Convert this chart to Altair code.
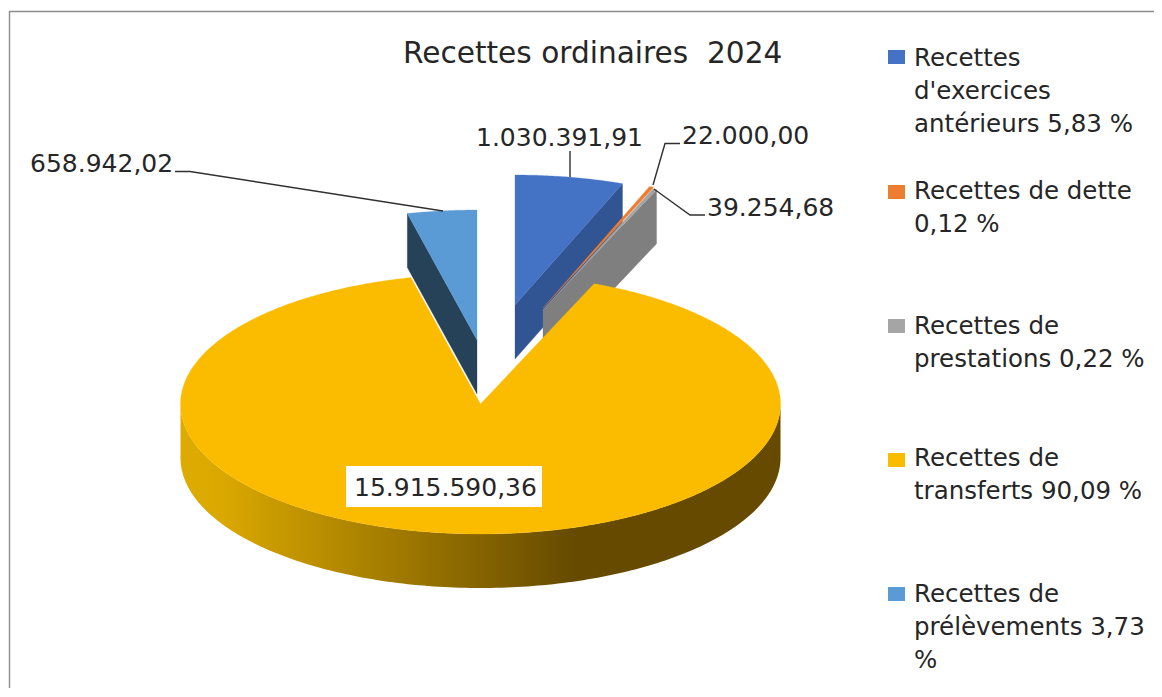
import math
import altair as alt
import pandas as pd

# ---- data
categories = ["Recettes d'exercices antérieurs", "Recettes de dette", "Recettes de prestations",
              "Recettes de transferts", "Recettes de prélèvements"]
values = [1030391.91, 22000.00, 39254.68, 15915590.36, 658942.02]
value_labels = ["1.030.391,91", "22.000,00", "39.254,68", "15.915.590,36", "658.942,02"]
top_colors = ["#4472C4", "#ED7D31", "#A5A5A5", "#FBBC00", "#5B9BD5"]
side_colors = ["#315492", "#B85F20", "#7F7F7F", "#654A00", "#264259"]
legend_lines = [["Recettes", "d'exercices", "antérieurs 5,83 %"],
                ["Recettes de dette", "0,12 %"],
                ["Recettes de", "prestations 0,22 %"],
                ["Recettes de", "transferts 90,09 %"],
                ["Recettes de", "prélèvements 3,73", "%"]]
title = "Recettes ordinaires \u00a02024"

# ---- layout of the 3D projection (page pixels)
RX, RY, DEPTH = 300, 130, 54
apex = [(515, 305), (543, 308), (543, 310), (480.5, 404), (477, 340)]
legend_first_y = [59, 192, 327, 459, 595]
legend_box_y = [57, 192, 326, 460, 594]
LINE_H = 33
FONT = "DejaVu Sans"
TXT = "#262626"

X = alt.X("x:Q", scale=alt.Scale(domain=[8, 1154], nice=False, zero=False), axis=None)
Y = alt.Y("y:Q", scale=alt.Scale(domain=[688, 8], nice=False, zero=False), axis=None)
X2 = alt.X2("x2:Q")
Y2 = alt.Y2("y2:Q")

total = sum(values)
spans, start = [], 0.0
for v in values:
    end = start + v / total * 360
    spans.append((start, end))
    start = end


def rim(i, t):
    a = math.radians(t)
    return apex[i][0] + RX * math.sin(a), apex[i][1] - RY * math.cos(a)


def polygon(points, fill):
    df = pd.DataFrame([{"x": p[0], "y": p[1], "k": n} for n, p in enumerate(points)])
    return alt.Chart(df).mark_line(interpolate="linear-closed", fill=fill, stroke=fill,
                                   strokeWidth=0.3).encode(
        x=X, y=Y, order=alt.Order("k:Q"))


def wedge(i):
    t0, t1 = spans[i]
    n = max(2, int((t1 - t0) * 2))
    pts = [apex[i]] + [rim(i, t0 + (t1 - t0) * k / n) for k in range(n + 1)]
    return polygon(pts, top_colors[i])


layers = []

# frame
frame = pd.DataFrame({"x": [9.5, 9.5, 1154], "y": [688, 11.5, 11.5], "k": [0, 1, 2]})
layers.append(alt.Chart(frame).mark_line(color="#8C8C8C", strokeWidth=1.4).encode(
    x=X, y=Y, order=alt.Order("k:Q")))


def side_face(i, t):
    ax, ay = apex[i]
    ox, oy = rim(i, t)
    return polygon([(ax, ay), (ox, oy), (ox, oy + DEPTH), (ax, ay + DEPTH)], side_colors[i])


# exploded slices: radial walls then top faces
layers.append(side_face(4, spans[4][0]))
layers.append(side_face(0, spans[0][1]))
layers.append(side_face(2, spans[2][1]))
layers.append(wedge(4))
layers.append(wedge(0))
layers.append(wedge(2))
layers.append(polygon([apex[1], rim(1, spans[1][0] - 0.2), rim(1, spans[1][1] + 0.2)], top_colors[1]))

# main slice: outer wall with a horizontal gradient, then the top face
wall_rows = []
for k in range(181):
    t = 90 + k
    x, y = rim(3, t)
    wall_rows.append({"x": x, "y": y, "y2": y + DEPTH})
wall = pd.DataFrame(wall_rows)
grad = alt.LinearGradient(gradient="linear", x1=0, x2=1, y1=0, y2=0,
                          stops=[alt.GradientStop(color="#DDAB00", offset=0),
                                 alt.GradientStop(color="#DAA800", offset=0.07),
                                 alt.GradientStop(color="#654A00", offset=0.66),
                                 alt.GradientStop(color="#654A00", offset=1)])
layers.append(alt.Chart(wall).mark_area(color=grad).encode(x=X, y=Y, y2=Y2))
layers.append(wedge(3))

# leader lines
leaders = [
    [(175, 171.5), (190, 171.5), (443, 211)],
    [(570, 151), (570, 177)],
    [(680, 143.5), (665, 143.5), (653, 185)],
    [(705, 215), (690, 215), (654, 189)],
]
for pts in leaders:
    d = pd.DataFrame([{"x": p[0], "y": p[1], "k": n} for n, p in enumerate(pts)])
    layers.append(alt.Chart(d).mark_line(color="#303030", strokeWidth=1.4).encode(
        x=X, y=Y, order=alt.Order("k:Q")))

# white box under the main label
box = pd.DataFrame({"x": [346], "x2": [542], "y": [466], "y2": [507]})
layers.append(alt.Chart(box).mark_rect(color="white").encode(x=X, x2=X2, y=Y, y2=Y2))

# value labels
label_pos = [(476, 138), (682, 136), (707, 208), (354, 488), (30, 164)]
labels = pd.DataFrame({"x": [p[0] for p in label_pos], "y": [p[1] for p in label_pos], "t": value_labels})
layers.append(alt.Chart(labels).mark_text(align="left", baseline="middle", font=FONT, fontSize=25,
                                          color=TXT).encode(x=X, y=Y, text="t:N"))

# title
tdf = pd.DataFrame({"x": [403], "y": [54], "t": [title]})
layers.append(alt.Chart(tdf).mark_text(align="left", baseline="middle", font=FONT, fontSize=29.6,
                                       color=TXT).encode(x=X, y=Y, text="t:N"))

# legend
rows = []
for i, lines in enumerate(legend_lines):
    for j, line in enumerate(lines):
        rows.append({"x": 914, "y": legend_first_y[i] + j * LINE_H, "t": line})
layers.append(alt.Chart(pd.DataFrame(rows)).mark_text(align="left", baseline="middle", font=FONT,
                                                      fontSize=24.5, color=TXT).encode(x=X, y=Y, text="t:N"))
keys = pd.DataFrame({"x": [888] * 5, "x2": [905] * 5,
                     "y": [c - 7 for c in legend_box_y], "y2": [c + 7 for c in legend_box_y],
                     "cat": categories, "col": top_colors})
layers.append(alt.Chart(keys).mark_rect().encode(
    x=X, x2=X2, y=Y, y2=Y2, color=alt.Color("col:N", scale=None)))

chart = alt.layer(*layers).properties(width=1146, height=680, padding=0, background="white",
                                      autosize=alt.AutoSizeParams(type="none")).configure_view(stroke=None)
chart.save("out.html", embed_options={"renderer": "svg", "actions": False})
